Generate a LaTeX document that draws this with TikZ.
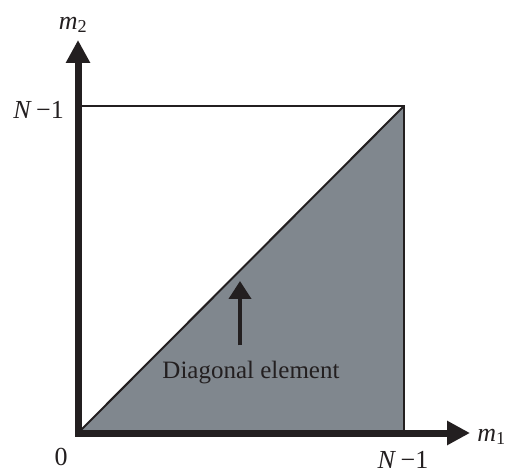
\documentclass[tikz,border=0pt]{standalone}
\usepackage{fontspec}
\setmainfont{Liberation Serif}
\usepackage{tikz}
\usepackage{xcolor}
\usetikzlibrary{arrows.meta,positioning}
\definecolor{regiongray}{HTML}{80878E}
\definecolor{inkdark}{HTML}{231F20}

\begin{document}
\begin{tikzpicture}[x=1pt,y=1pt,
axis/.style={draw=inkdark,line width=7pt,line join=miter,{Triangle[length=23pt,width=23pt]}-{Triangle[length=23pt,width=23pt]}},
edge/.style={draw=inkdark,line width=2pt},
pointer/.style={draw=inkdark,line width=4pt,-{Triangle[length=18pt,width=22pt]}},
lbl/.style={inner sep=0pt,text=inkdark,font=\fontsize{26}{30}\selectfont}
]
\useasboundingbox (0,0) rectangle (510,473);
\coordinate (orig) at (78,40);
\coordinate (xend) at (470,40);
\coordinate (yend) at (78,433);
\coordinate (corner) at (404,367);
\coordinate (lowright) at (404,40);
\coordinate (topleft) at (78,367);
% shaded lower triangle
\fill[regiongray] (orig) -- (lowright) -- (corner) -- cycle;
\draw[edge] (topleft) -- (corner) -- (lowright);
\draw[edge] (orig) -- (corner);
\draw[axis] (yend) -- (orig) -- (xend);
% labels
\node[lbl] (mtwo) at (73,448) {\textit{m}\textsubscript{2}};
\node[lbl,anchor=east] (mone) at (506,36) {\textit{m}\textsubscript{1}};
\node[lbl,anchor=east] (ntop) at (64,363) {\textit{N}\,−1};
\node[lbl] (nright) at (403,13) {\textit{N}\,−1};
\node[lbl] (zero) at (61,16) {0};
\node[lbl,font=\fontsize{25}{30}\selectfont] (diag) at (251,100) {Diagonal element};
\coordinate[above=16pt of diag.north] (pbase);
\coordinate (ptip) at (240,192);
\draw[pointer] (pbase -| ptip) -- (ptip);
\end{tikzpicture}
\end{document}
